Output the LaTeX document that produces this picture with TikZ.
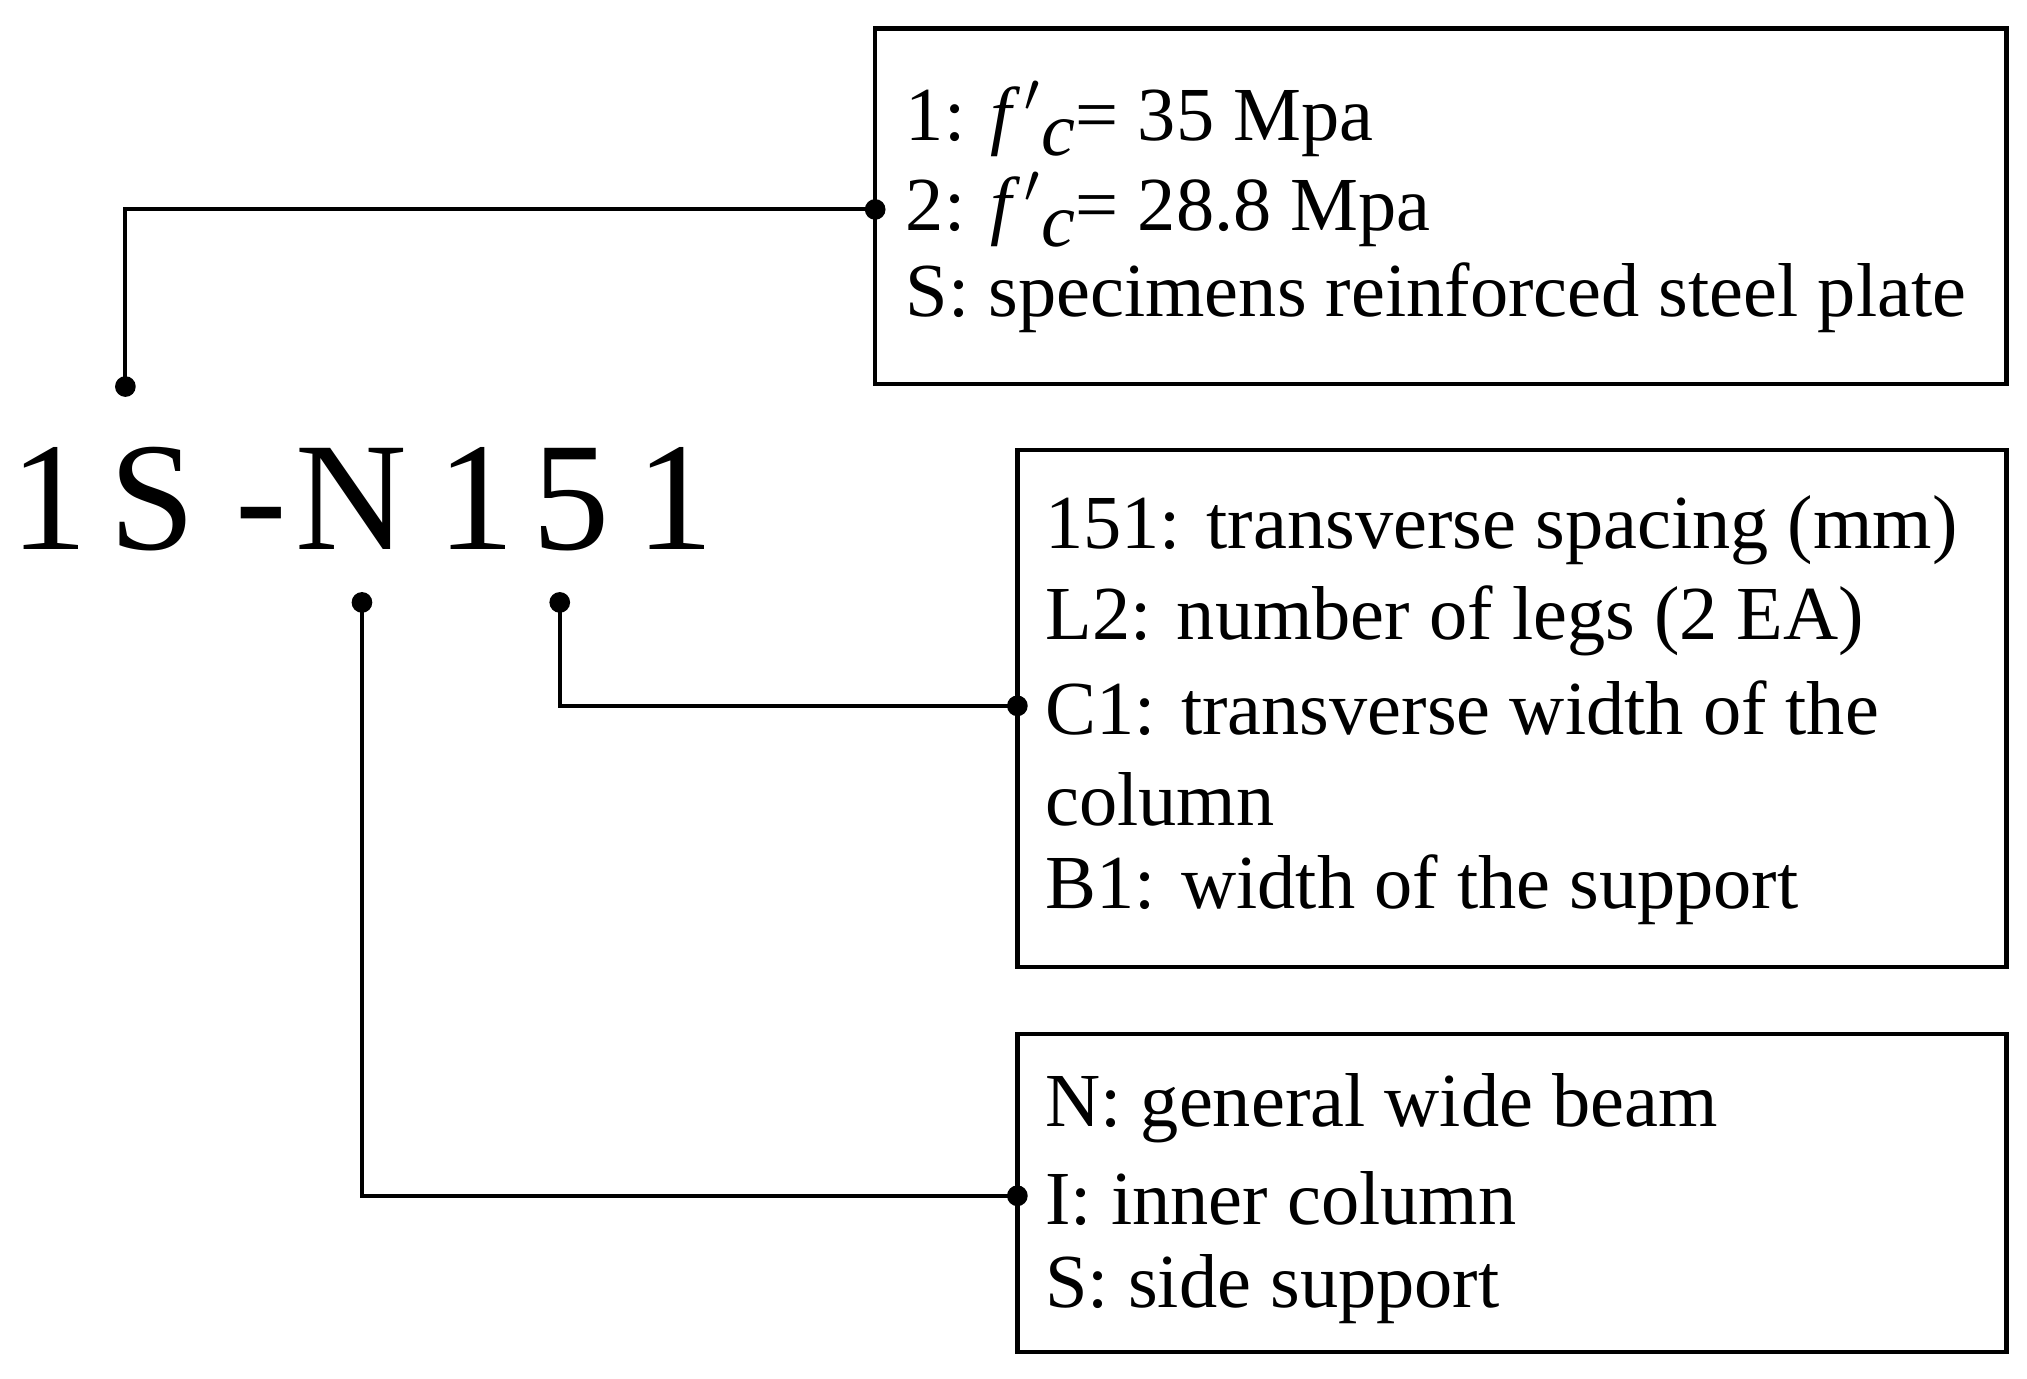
\documentclass[tikz,border=0pt]{standalone}
\usepackage{fontspec}
\setmainfont{Liberation Serif}
\begin{document}
\begin{tikzpicture}[x=0.01cm,y=-0.01cm,
  box/.style={draw,line width=1pt,inner sep=0pt},
  txt/.style={anchor=west,inner sep=0pt,font=\fontsize{16.8}{19}\selectfont},
  big/.style={anchor=base,inner sep=0pt,font=\fontsize{34}{36}\selectfont},
  conn/.style={line width=0.9pt},
  dot/.style={circle,fill,inner sep=0pt,minimum size=0.16cm}]
\useasboundingbox (0,0) rectangle (1568,1066);
\draw[box] (677,22) rectangle (1552,297);
\draw[box] (787,348) rectangle (1552,748);
\draw[box] (787,800) rectangle (1552,1046);
\node[txt] (t1) at (700,92) {1: \textit{f\,}$'$\raisebox{-0.45ex}{\textit{c}}= 35 Mpa};
\node[txt] (t2) at (700,162) {2: \textit{f\,}$'$\raisebox{-0.45ex}{\textit{c}}= 28.8 Mpa};
\node[txt] (t3) at (700,230) {S: specimens reinforced steel plate};
\node[txt] (u1) at (808,410) {151: transverse spacing (mm)};
\node[txt] (u2) at (808,480) {L2: number of legs (2 EA)};
\node[txt] (u3) at (808,548) {C1: transverse width of the};
\node[txt] (u4) at (808,618) {column};
\node[txt] (u5) at (808,688) {B1: width of the support};
\node[txt] (v1) at (808,857) {N: general wide beam};
\node[txt] (v2) at (808,927) {I: inner column};
\node[txt] (v3) at (808,997) {S: side support};
\foreach \c/\x [count=\i] in {1/38,S/118,-/202,N/272,1/368,5/442,1/522}
  \node[big] (c\i) at (\x,425) {\c};
\node[dot] (d1) at (97,299) {};
\node[dot] (e1) at (677,162) {};
\node[dot] (d2) at (433,466) {};
\node[dot] (e2) at (787,546) {};
\node[dot] (d3) at (280,466) {};
\node[dot] (e3) at (787,925) {};
\draw[conn] (d1.center) |- (e1.center);
\draw[conn] (d2.center) |- (e2.center);
\draw[conn] (d3.center) |- (e3.center);
\end{tikzpicture}
\end{document}
